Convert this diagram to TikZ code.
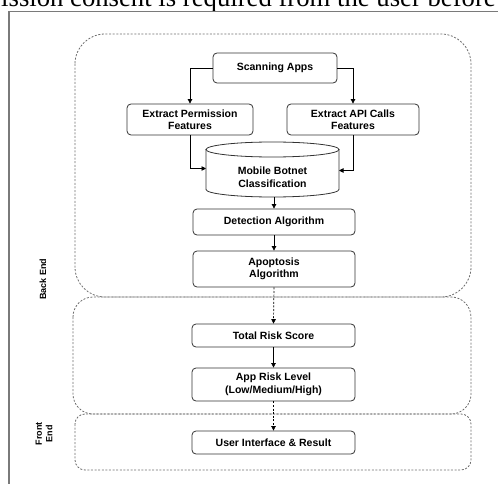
\documentclass[tikz,border=0pt]{standalone}
\usepackage{fontspec}
\setmainfont{Liberation Sans}
\newfontfamily\timesfont{Liberation Serif}
\usetikzlibrary{arrows.meta}
\definecolor{regiongray}{HTML}{6E6E6E}
\definecolor{boxborder}{HTML}{333333}
\definecolor{framegray}{HTML}{7A7A7A}
\tikzset{
  procbox/.style={draw=boxborder, line width=0.8pt, rounded corners=4pt, fill=white,
    font=\fontsize{10.5}{12.5}\selectfont\bfseries, align=center, inner sep=0pt},
  region/.style={draw=regiongray, line width=0.8pt, dash pattern=on 2pt off 1.6pt},
  flow/.style={draw=black, line width=0.7pt, -{Triangle[length=4.5pt,width=4.5pt]}},
  dflow/.style={flow, dash pattern=on 2pt off 1.6pt},
  sidelabel/.style={font=\fontsize{9}{10.5}\selectfont\bfseries, align=center, rotate=90}
}
\begin{document}
\begin{tikzpicture}[x=1pt,y=-1pt]
\useasboundingbox (0,0) rectangle (498,484);
% cut-off text line and frame
\node[anchor=base west, inner sep=0pt, font=\timesfont\fontsize{26.7}{30}\selectfont] (toptext) at (1,6.5) {ission consent is required from the user before};
\draw[framegray, line width=1.3pt] (9,484) -- (9,11.5) -- (498,11.5);
% regions
\draw[region] (75,34) [rounded corners=30pt] rectangle (471,297);
\draw[region] (73,297) [rounded corners=20pt] rectangle (471,414);
\draw[region] (75,414) [rounded corners=10pt] rectangle (471,470);
% side labels
\node[sidelabel] (backend) at (43,279) {Back End};
\node[sidelabel] (frontend) at (44,434) {Front\\End};
% boxes
\node[procbox, minimum width=124pt, minimum height=30pt] (scan) at (275,68) {Scanning Apps};
\node[procbox, minimum width=126pt, minimum height=31pt] (perm) at (190,119.5) {Extract Permission\\Features};
\node[procbox, minimum width=132pt, minimum height=31pt] (api) at (353,119.5) {Extract API Calls\\Features};
% cylinder
\node[inner sep=0pt, minimum width=133pt, minimum height=55pt] (cyl) at (272.5,169.5) {};
\draw[boxborder, line width=0.8pt, fill=white]
  (206,149.5) -- (206,189.5) arc[start angle=180, end angle=360, x radius=66.5pt, y radius=7.5pt] -- (339,149.5);
\draw[boxborder, line width=0.8pt, fill=white] (272.5,149.5) ellipse[x radius=66.5pt, y radius=7.5pt];
\node[font=\fontsize{10.5}{12.5}\selectfont\bfseries, align=center] (cyltext) at (272.5,177) {Mobile Botnet\\Classification};
\node[procbox, minimum width=162pt, minimum height=26pt] (detect) at (274,222) {Detection Algorithm};
\node[procbox, minimum width=162pt, minimum height=36pt] (apop) at (274,269) {Apoptosis\\Algorithm};
\node[procbox, minimum width=163pt, minimum height=23pt] (total) at (273.5,335.5) {Total Risk Score};
\node[procbox, minimum width=163pt, minimum height=33pt] (level) at (273.5,384.5) {App Risk Level\\(Low/Medium/High)};
\node[procbox, minimum width=163pt, minimum height=23pt] (ui) at (273.5,442.5) {User Interface \& Result};
% connectors
\draw[flow] (scan.west) -| (perm.north);
\draw[flow] (scan.east) -| (api.north);
\coordinate (cylL) at (206,168.5);
\coordinate (cylR) at (339,170.5);
\draw[flow] (perm.south) |- (cylL);
\draw[flow] (api.south) |- (cylR);
\draw[flow] (cyl.south -| detect.north) -- (detect.north);
\draw[flow] (detect.south) -- (apop.north);
\draw[dflow] (apop.south) -- (total.north);
\draw[flow] (total.south) -- (level.north);
\draw[dflow] (level.south) -- (ui.north);
\end{tikzpicture}
\end{document}
